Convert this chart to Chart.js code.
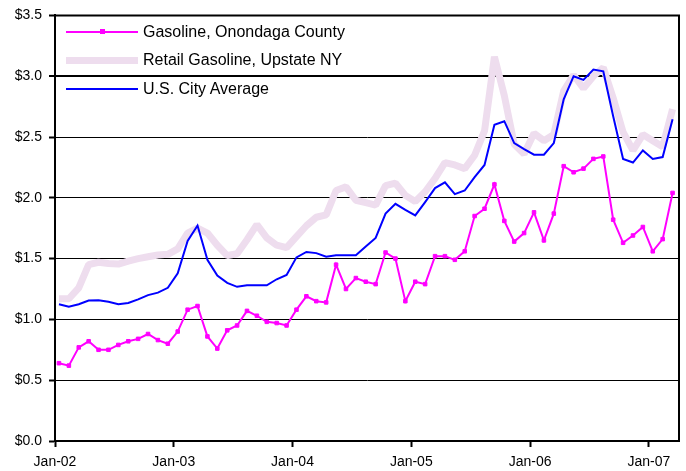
<!DOCTYPE html>
<html>
<head>
<meta charset="utf-8">
<script src="https://cdn.jsdelivr.net/npm/chart.js@4/dist/chart.umd.min.js"></script>
<style>
  html, body { margin: 0; padding: 0; background: #fff; }
  #wrap { position: relative; width: 686px; height: 471px; }
  #c { position: absolute; left: 0; top: 0; }
  .row { position: absolute; left: 0; height: 0; }
  .sample { position: absolute; left: 66px; width: 72px; }
  .mk { position: absolute; width: 5px; height: 5px; }
  .txt { position: absolute; left: 143px; white-space: nowrap;
         font-family: "Liberation Sans", Arial, sans-serif; font-size: 16px;
         line-height: 16px; color: #000; }
</style>
</head>
<body>
<div id="wrap">
  <canvas id="c" width="686" height="471"></canvas>
  <div id="legend"></div>
</div>
<script>
// ---- data (monthly, Jan-02 .. Mar-07) ----
const months = [
  'Jan-02','Feb-02','Mar-02','Apr-02','May-02','Jun-02','Jul-02','Aug-02','Sep-02','Oct-02','Nov-02','Dec-02',
  'Jan-03','Feb-03','Mar-03','Apr-03','May-03','Jun-03','Jul-03','Aug-03','Sep-03','Oct-03','Nov-03','Dec-03',
  'Jan-04','Feb-04','Mar-04','Apr-04','May-04','Jun-04','Jul-04','Aug-04','Sep-04','Oct-04','Nov-04','Dec-04',
  'Jan-05','Feb-05','Mar-05','Apr-05','May-05','Jun-05','Jul-05','Aug-05','Sep-05','Oct-05','Nov-05','Dec-05',
  'Jan-06','Feb-06','Mar-06','Apr-06','May-06','Jun-06','Jul-06','Aug-06','Sep-06','Oct-06','Nov-06','Dec-06',
  'Jan-07','Feb-07','Mar-07'
];
const tickLabels = ['Jan-02','Jan-03','Jan-04','Jan-05','Jan-06','Jan-07'];
const seriesNames = ['Gasoline, Onondaga County','Retail Gasoline, Upstate NY','U.S. City Average'];

const onondaga = [
  0.64,0.62,0.77,0.82,0.75,0.75,0.79,0.82,0.84,0.88,0.83,0.80,
  0.90,1.08,1.11,0.86,0.76,0.91,0.95,1.07,1.03,0.98,0.97,0.95,
  1.08,1.19,1.15,1.14,1.45,1.25,1.34,1.31,1.29,1.55,1.50,1.15,
  1.31,1.29,1.52,1.52,1.49,1.56,1.85,1.91,2.11,1.81,1.64,1.71,
  1.88,1.65,1.87,2.26,2.21,2.24,2.32,2.34,1.82,1.63,1.69,1.76,
  1.56,1.66,2.04
];
const upstate = [
  1.17,1.17,1.26,1.45,1.47,1.46,1.455,1.48,1.50,1.515,1.53,1.535,
  1.58,1.71,1.75,1.71,1.61,1.525,1.54,1.655,1.78,1.67,1.61,1.59,
  1.68,1.77,1.84,1.86,2.06,2.09,1.98,1.96,1.94,2.10,2.12,2.02,
  1.97,2.05,2.16,2.29,2.27,2.24,2.35,2.55,3.16,2.84,2.44,2.36,
  2.53,2.47,2.52,2.88,3.01,2.90,3.00,3.07,2.82,2.54,2.39,2.52,
  2.47,2.42,2.73
];
const usAverage = [
  1.125,1.105,1.125,1.155,1.158,1.145,1.125,1.135,1.165,1.20,1.22,1.26,
  1.38,1.645,1.772,1.49,1.36,1.30,1.268,1.28,1.28,1.28,1.33,1.365,
  1.51,1.555,1.545,1.515,1.528,1.528,1.528,1.60,1.67,1.87,1.95,1.90,
  1.855,1.965,2.08,2.127,2.03,2.06,2.17,2.27,2.60,2.63,2.45,2.40,
  2.355,2.355,2.45,2.81,3.00,2.97,3.055,3.04,2.67,2.32,2.29,2.39,
  2.32,2.335,2.645
];

const colors = ['#FF00FF', '#EEDDEE', '#0000FF'];
const FONT = '"Liberation Sans", Arial, sans-serif';

function pts(arr) { return arr.map((v, i) => ({ x: i, y: v })); }

const framePlugin = {
  id: 'frame',
  afterDraw(chart) {
    const { ctx, chartArea: a } = chart;
    ctx.save();
    ctx.strokeStyle = '#000';
    ctx.lineWidth = 2;
    ctx.beginPath();
    ctx.moveTo(a.left, a.top);
    ctx.lineTo(a.right, a.top);
    ctx.lineTo(a.right, a.bottom);
    ctx.stroke();
    ctx.restore();
  }
};

new Chart(document.getElementById('c'), {
  type: 'line',
  data: {
    datasets: [
      { label: seriesNames[0], data: pts(onondaga), borderColor: colors[0], backgroundColor: colors[0],
        borderWidth: 2, pointStyle: 'rect', pointRadius: 2.5, pointBorderWidth: 1,
        pointBackgroundColor: colors[0], pointBorderColor: colors[0], tension: 0, order: 1 },
      { label: seriesNames[1], data: pts(upstate), borderColor: colors[1], backgroundColor: colors[1],
        borderWidth: 7, pointRadius: 0, tension: 0, order: 3, borderJoinStyle: 'bevel' },
      { label: seriesNames[2], data: pts(usAverage), borderColor: colors[2], backgroundColor: colors[2],
        borderWidth: 2, pointRadius: 0, tension: 0, order: 2 }
    ]
  },
  options: {
    responsive: false,
    animation: false,
    devicePixelRatio: 1,
    layout: { padding: { top: 10, right: 7, left: 0, bottom: 0 } },
    plugins: { legend: { display: false }, tooltip: { enabled: false } },
    scales: {
      x: {
        type: 'linear',
        min: -0.4, max: 62.65,
        afterBuildTicks: (s) => { s.ticks = tickLabels.map((l, k) => ({ value: 12 * k - 0.4 })); },
        afterFit: (s) => { s.height = 30; },
        ticks: { autoSkip: false, maxRotation: 0, padding: 7, color: '#000',
                 font: { family: FONT, size: 14 },
                 callback: (v, i) => tickLabels[i] },
        grid: { drawOnChartArea: false, drawTicks: true, tickLength: 6, tickWidth: 2, tickColor: '#000' },
        border: { display: true, color: '#000', width: 2 }
      },
      y: {
        min: 0, max: 3.5,
        afterFit: (s) => { s.width = 55; },
        ticks: { stepSize: 0.5, padding: 7, color: '#000', font: { family: FONT, size: 14 },
                 callback: (v) => '$' + Number(v).toFixed(1) },
        grid: { color: '#000', lineWidth: (c) => (c.tick && Math.abs(c.tick.value - 3) < 1e-6) ? 2 : 1,
                drawTicks: true, tickLength: 6, tickWidth: 2, tickColor: '#000' },
        border: { display: true, color: '#000', width: 2 }
      }
    }
  },
  plugins: [framePlugin]
});

// ---- HTML legend (inside plot, top-left) ----
const legend = document.getElementById('legend');
const rowY = [32, 60, 89];
const sampleW = [2, 7, 2];
seriesNames.forEach((name, i) => {
  const row = document.createElement('div');
  row.className = 'row';
  row.style.top = rowY[i] + 'px';
  const s = document.createElement('div');
  s.className = 'sample';
  s.style.height = sampleW[i] + 'px';
  s.style.top = (-sampleW[i] / 2) + 'px';
  s.style.background = colors[i];
  row.appendChild(s);
  if (i === 0) {
    const m = document.createElement('div');
    m.className = 'mk';
    m.style.left = '100px'; m.style.top = '-3px';
    m.style.background = colors[0];
    row.appendChild(m);
  }
  const t = document.createElement('div');
  t.className = 'txt';
  t.style.top = '-8px';
  t.textContent = name;
  row.appendChild(t);
  legend.appendChild(row);
});
</script>
</body>
</html>
